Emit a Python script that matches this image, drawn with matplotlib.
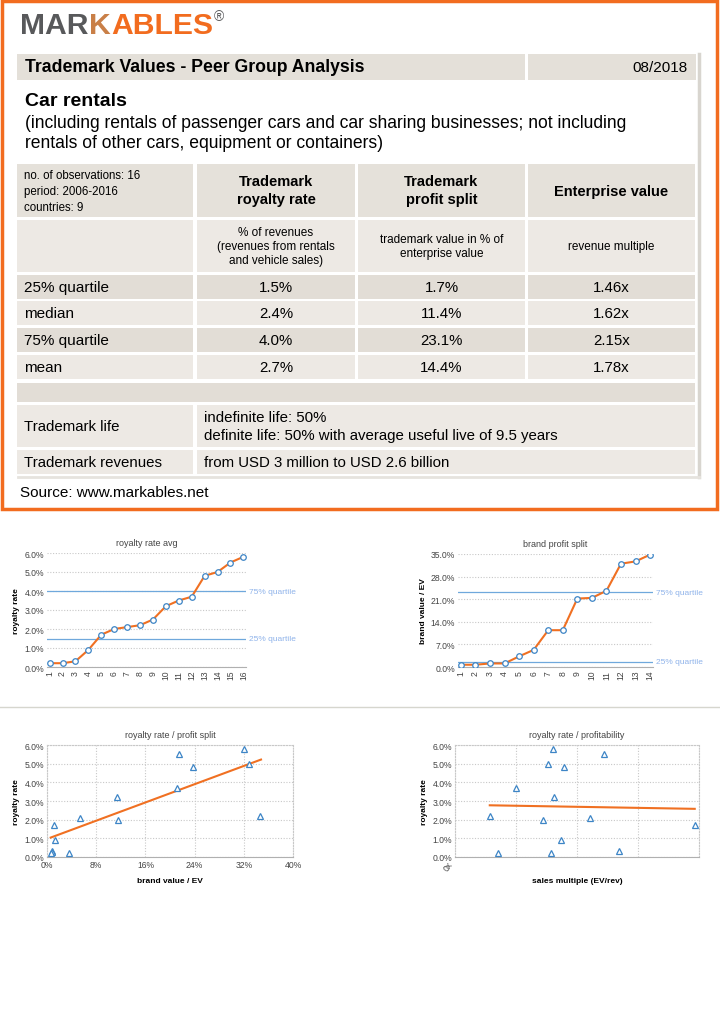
import matplotlib
matplotlib.use("Agg")
import matplotlib.pyplot as plt
from matplotlib.patches import Rectangle
from matplotlib.ticker import FuncFormatter

plt.rcParams['font.family'] = ['Liberation Sans', 'DejaVu Sans']
NARROW = ['Liberation Sans Narrow', 'Liberation Sans', 'DejaVu Sans']

W, H = 720, 1020

# ---- table data
stat_labels = ['25% quartile', 'median', '75% quartile', 'mean']
royalty = ['1.5%', '2.4%', '4.0%', '2.7%']
profit_split = ['1.7%', '11.4%', '23.1%', '14.4%']
ev_multiple = ['1.46x', '1.62x', '2.15x', '1.78x']

# ---- chart data
rr_sorted = [0.2, 0.2, 0.3, 0.9, 1.7, 2.0, 2.1, 2.2, 2.5, 3.2, 3.5, 3.7, 4.8, 5.0, 5.5, 5.8]
rr_quart = [1.5, 4.0]
ps_sorted = [0.7, 0.7, 1.1, 1.1, 3.3, 5.3, 11.4, 11.4, 21.2, 21.4, 23.6, 32.0, 32.7, 34.8]
ps_quart = [1.7, 23.1]

sc_ps_x = [32.1, 21.5, 23.7, 32.8, 21.2, 11.4, 11.5, 5.4, 1.1, 1.35, 3.5, 0.8, 0.8, 0.7, 34.7]
sc_ps_y = [5.8, 5.5, 4.8, 5.0, 3.7, 3.2, 2.0, 2.1, 1.7, 0.9, 0.2, 0.3, 0.25, 0.2, 2.2]
trend_ps_x = [0.6, 34.8]
trend_ps_y = [1.04, 5.22]

sc_ev_x = [0.58, 0.70, 1.00, 1.44, 1.52, 1.57, 1.60, 1.62, 1.74, 1.78, 2.21, 2.44, 2.69, 3.93]
sc_ev_y = [2.2, 0.2, 3.7, 2.0, 5.0, 0.2, 5.8, 3.2, 0.9, 4.8, 2.1, 5.5, 0.3, 1.7]
trend_ev_x = [0.57, 3.93]
trend_ev_y = [2.77, 2.58]

ORANGE = '#f07022'
BLUE = '#3d85c6'
QBLUE = '#6fa8dc'
QTXT = '#8fb3ea'
GRID = '#c8c8c8'
TXT = '#444444'
DARK = '#e2ddd6'
LIGHT = '#ede9e4'

fig = plt.figure(figsize=(W / 100, H / 100), dpi=100)
bg = fig.add_axes([0, 0, 1, 1])
bg.set_xlim(0, W)
bg.set_ylim(H, 0)
bg.axis('off')
renderer = fig.canvas.get_renderer()


def box(x0, y0, x1, y1, color):
    bg.add_patch(Rectangle((x0, y0), x1 - x0, y1 - y0, facecolor=color, edgecolor='none'))


# orange frame
bg.add_patch(Rectangle((2, 2), 715, 508, facecolor='none', edgecolor='#f26c1f', lw=2.5))

# logo, pieces placed one after the other
x = 20
for part, c in [('MAR', '#58595b'), ('K', '#c97f47'), ('ABLES', '#f26c1f')]:
    t = bg.text(x, 26, part, fontsize=21.7, fontweight='bold', color=c, va='center')
    x = t.get_window_extent(renderer).x1 + 0.3
bg.text(x + 1, 17, '®', fontsize=10, color='#58595b', va='center')

# right shadow of the table
bg.plot([699, 699], [55, 478], color='#d8d5cf', lw=2.5)
bg.plot([18, 699], [478, 478], color='#e6e3de', lw=2)

# header bar
box(17, 55, 525, 81, '#e4e0d9')
box(528, 55, 696, 81, '#e4e0d9')
bg.text(25, 68, 'Trademark Values - Peer Group Analysis', fontsize=12.7, fontweight='bold', va='center')
bg.text(688, 68, '08/2018', fontsize=11, va='center', ha='right')

bg.text(25, 101, 'Car rentals', fontsize=14, fontweight='bold', va='center')
bg.text(25, 123, '(including rentals of passenger cars and car sharing businesses; not including',
        fontsize=12.65, va='center')
bg.text(25, 143, 'rentals of other cars, equipment or containers)', fontsize=12.65, va='center')

cols = [(17, 193), (197, 355), (358, 525), (528, 695)]
centers = [(a + b) / 2 for a, b in cols]

# row 1 + row 2
for a, b in cols:
    box(a, 165, b, 218, '#e5e1da')
    box(a, 221, b, 273, LIGHT)
for i, t in enumerate(['no. of observations: 16', 'period: 2006-2016', 'countries: 9']):
    bg.text(24, 176 + i * 16, t, fontsize=8.3, family=NARROW, va='center')
bg.text(centers[1], 191, 'Trademark\nroyalty rate', fontsize=10.5, fontweight='bold', family=NARROW,
        ha='center', va='center', linespacing=1.3)
bg.text(centers[2], 191, 'Trademark\nprofit split', fontsize=10.5, fontweight='bold', family=NARROW,
        ha='center', va='center', linespacing=1.3)
bg.text(centers[3], 192, 'Enterprise value', fontsize=10.5, fontweight='bold', family=NARROW,
        ha='center', va='center')
bg.text(centers[1], 247, '% of revenues\n(revenues from rentals\nand vehicle sales)', fontsize=8.5,
        family=NARROW, ha='center', va='center', linespacing=1.25)
bg.text(centers[2], 247, 'trademark value in % of\nenterprise value', fontsize=8.5,
        family=NARROW, ha='center', va='center', linespacing=1.25)
bg.text(centers[3], 247, 'revenue multiple', fontsize=8.5, family=NARROW, ha='center', va='center')

# statistic rows
row_tops = [276, 302, 329, 356]
for k, lab in enumerate(stat_labels):
    y0 = row_tops[k]
    y1 = y0 + 24
    col = DARK if k % 2 == 0 else LIGHT
    for a, b in cols:
        box(a, y0, b, y1, col)
    ym = (y0 + y1) / 2
    bg.text(24, ym, lab, fontsize=11, va='center')
    bg.text(centers[1], ym, royalty[k], fontsize=10.8, va='center', ha='center')
    bg.text(centers[2], ym, profit_split[k], fontsize=10.8, va='center', ha='center')
    bg.text(centers[3], ym, ev_multiple[k], fontsize=10.8, va='center', ha='center')

box(17, 384, 695, 403, DARK)

box(17, 406, 193, 448, LIGHT)
box(197, 406, 695, 448, LIGHT)
bg.text(24, 427, 'Trademark life', fontsize=10.8, family=NARROW, va='center')
bg.text(204, 418, 'indefinite life: 50%', fontsize=10.8, family=NARROW, va='center')
bg.text(204, 436, 'definite life: 50% with average useful live of 9.5 years', fontsize=10.8,
        family=NARROW, va='center')

box(17, 451, 193, 475, LIGHT)
box(197, 451, 695, 475, LIGHT)
bg.text(24, 463, 'Trademark revenues', fontsize=10.8, family=NARROW, va='center')
bg.text(204, 463, 'from USD 3 million to USD 2.6 billion', fontsize=10.8, family=NARROW, va='center')

bg.text(20, 493, 'Source: www.markables.net', fontsize=11, va='center')

# separator between chart rows
bg.plot([0, W], [708, 708], color='#d6d6ce', lw=1)


def px_axes(l, t, r, b):
    return fig.add_axes([l / W, 1 - b / H, (r - l) / W, (b - t) / H])


def style(ax, title):
    ax.set_facecolor('none')
    ax.set_title(title, fontsize=6.5, color=TXT, pad=6)
    ax.tick_params(labelsize=6.2, colors=TXT, length=0, pad=2)
    for s in ['top', 'right', 'left']:
        ax.spines[s].set_visible(False)
    ax.spines['bottom'].set_color('#b0b0b0')
    ax.spines['bottom'].set_linewidth(0.8)


def line_chart(ax, vals, quart, ymax, step, title, ylab):
    n = len(vals)
    x = list(range(1, n + 1))
    style(ax, title)
    ax.set_xlim(0.8, n + 0.2)
    ax.set_ylim(0, ymax)
    ax.set_yticks([i * step for i in range(int(round(ymax / step)) + 1)])
    ax.yaxis.set_major_formatter(FuncFormatter(lambda v, p: f'{v:.1f}%'))
    ax.grid(axis='y', color=GRID, ls=(0, (1, 1.5)), lw=0.8)
    ax.set_xticks(x)
    ax.set_xticklabels([str(i) for i in x], rotation=90)
    ax.set_ylabel(ylab, fontsize=6, fontweight='bold', labelpad=3)
    for q, name in zip(quart, ['25% quartile', '75% quartile']):
        ax.axhline(q, color=QBLUE, lw=0.9)
        ax.text(1.015, q, name, transform=ax.get_yaxis_transform(), fontsize=6,
                color=QTXT, va='center')
    ax.plot(x, vals, color=ORANGE, lw=1.5, marker='o', ms=4, mfc='white', mec=BLUE, mew=0.9,
            zorder=3)


ax1 = px_axes(47, 554, 246, 668)
line_chart(ax1, rr_sorted, rr_quart, 6, 1, 'royalty rate avg', 'royalty rate')
ax2 = px_axes(458, 555, 653, 668)
line_chart(ax2, ps_sorted, ps_quart, 35, 7, 'brand profit split', 'brand value / EV')


def scatter_chart(ax, xs, ys, tx, ty, title, xlab):
    style(ax, title)
    ax.set_ylim(0, 6)
    ax.set_yticks(range(7))
    ax.yaxis.set_major_formatter(FuncFormatter(lambda v, p: f'{v:.1f}%'))
    ax.grid(color=GRID, ls=(0, (1, 1.5)), lw=0.8)
    for s in ['top', 'right', 'left']:
        ax.spines[s].set_visible(True)
        ax.spines[s].set_color(GRID)
        ax.spines[s].set_linestyle((0, (1, 1.5)))
        ax.spines[s].set_linewidth(0.8)
    ax.set_ylabel('royalty rate', fontsize=6, fontweight='bold', labelpad=3)
    ax.set_xlabel(xlab, fontsize=6, fontweight='bold', labelpad=10)
    ax.plot(tx, ty, color=ORANGE, lw=1.5, zorder=2)
    ax.plot(xs, ys, ls='none', marker='^', ms=3.8, mfc='white', mec=BLUE, mew=0.9, zorder=3)


ax3 = px_axes(47, 746, 293, 858)
scatter_chart(ax3, sc_ps_x, sc_ps_y, trend_ps_x, trend_ps_y, 'royalty rate / profit split',
              'brand value / EV')
ax3.set_xlim(0, 40)
ax3.set_xticks(range(0, 41, 8))
ax3.xaxis.set_major_formatter(FuncFormatter(lambda v, p: f'{v:.0f}%'))
ax3.xaxis.labelpad = 6

ax4 = px_axes(455, 746, 699, 858)
scatter_chart(ax4, sc_ev_x, sc_ev_y, trend_ev_x, trend_ev_y, 'royalty rate / profitability',
              'sales multiple (EV/rev)')
ax4.set_xlim(0, 4)
ax4.set_xticks(range(5))
ax4.set_xticklabels(['0x', '', '', '', ''], rotation=55, ha='right')
ax4.xaxis.labelpad = 3

fig.savefig('out.png', dpi=100, facecolor='white')
